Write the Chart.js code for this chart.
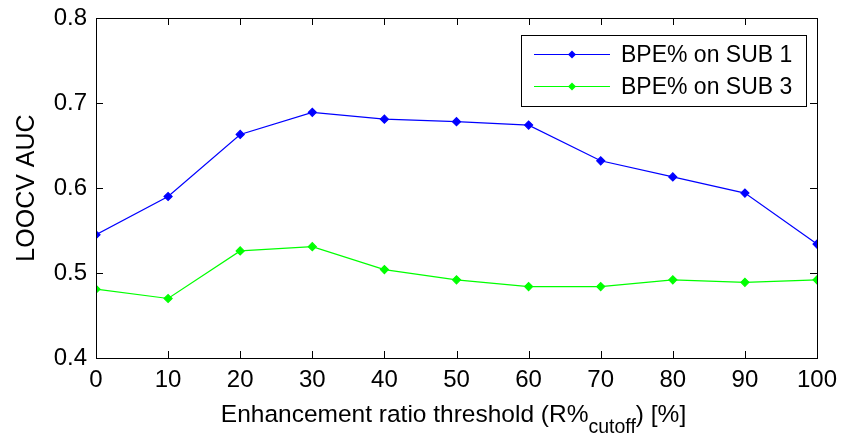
<!DOCTYPE html>
<html>
<head>
<meta charset="utf-8">
<script src="https://cdn.jsdelivr.net/npm/chart.js@4"></script>
<style>
  html, body { margin: 0; padding: 0; background: #fff; }
  #wrap { width: 842px; height: 438px; }
</style>
</head>
<body>
<div id="wrap"><canvas id="auc-chart" width="842" height="438"></canvas></div>
<script>
const thresholds = [0, 10, 20, 30, 40, 50, 60, 70, 80, 90, 100];
const sub1 = [0.545, 0.590, 0.663, 0.689, 0.681, 0.678, 0.674, 0.632, 0.613, 0.594, 0.534];
const sub3 = [0.481, 0.470, 0.526, 0.531, 0.504, 0.492, 0.484, 0.484, 0.492, 0.489, 0.492];
const seriesLabels = ['BPE% on SUB 1', 'BPE% on SUB 3'];
const yTitle = 'LOOCV AUC';
const xTitleParts = ['Enhancement ratio threshold (R%', 'cutoff', ') [%]'];

const FONT = '"Liberation Sans", Arial, sans-serif';

function toPoints(values) {
    return thresholds.map((t, i) => ({ x: t, y: values[i] }));
}

// MATLAB-like box with inward ticks, legend and subscripted x label
const matlabFrame = {
    id: 'matlabFrame',
    afterDatasetsDraw(chart) {
        const { ctx, chartArea: a, scales } = chart;
        const len = 7;
        ctx.save();
        ctx.strokeStyle = '#000';
        ctx.lineWidth = 1;
        ctx.beginPath();
        scales.x.ticks.forEach(t => {
            const px = Math.round(scales.x.getPixelForValue(t.value)) + 0.5;
            ctx.moveTo(px, a.bottom); ctx.lineTo(px, a.bottom - len);
            ctx.moveTo(px, a.top); ctx.lineTo(px, a.top + len);
        });
        scales.y.ticks.forEach(t => {
            const py = Math.round(scales.y.getPixelForValue(t.value)) + 0.5;
            ctx.moveTo(a.left, py); ctx.lineTo(a.left + len, py);
            ctx.moveTo(a.right, py); ctx.lineTo(a.right - len, py);
        });
        ctx.stroke();
        ctx.strokeRect(Math.round(a.left) + 0.5, Math.round(a.top) + 0.5,
            Math.round(a.right - a.left), Math.round(a.bottom - a.top));

        // legend
        const lx = 521, ly = 35, lw = 285, lh = 71;
        ctx.fillStyle = '#fff';
        ctx.fillRect(lx, ly, lw, lh);
        ctx.strokeRect(lx + 0.5, ly + 0.5, lw, lh);
        ctx.font = '23px ' + FONT;
        ctx.textBaseline = 'middle';
        chart.data.datasets.forEach((ds, i) => {
            const ry = ly + 19.5 + i * 32;
            ctx.strokeStyle = ds.borderColor;
            ctx.lineWidth = 1.2;
            ctx.beginPath();
            ctx.moveTo(lx + 13, ry); ctx.lineTo(lx + 89, ry);
            ctx.stroke();
            ctx.fillStyle = ds.borderColor;
            ctx.beginPath();
            ctx.moveTo(lx + 51 - 4, ry); ctx.lineTo(lx + 51, ry - 4);
            ctx.lineTo(lx + 51 + 4, ry); ctx.lineTo(lx + 51, ry + 4);
            ctx.closePath(); ctx.fill();
            ctx.fillStyle = '#000';
            ctx.fillText(ds.label, lx + 100, ry + 1);
        });

        // x axis title with subscript
        const bigFont = '24.5px ' + FONT, smallFont = '19.5px ' + FONT;
        ctx.font = bigFont;
        const w0 = ctx.measureText(xTitleParts[0]).width;
        const w2 = ctx.measureText(xTitleParts[2]).width;
        ctx.font = smallFont;
        const w1 = ctx.measureText(xTitleParts[1]).width;
        let x = (a.left + a.right) / 2 - 3 - (w0 + w1 + w2) / 2;
        ctx.fillStyle = '#000';
        ctx.textBaseline = 'alphabetic';
        ctx.textAlign = 'left';
        ctx.font = bigFont;
        ctx.fillText(xTitleParts[0], x, 422);
        x += w0;
        ctx.font = smallFont;
        ctx.fillText(xTitleParts[1], x, 433);
        x += w1;
        ctx.font = bigFont;
        ctx.fillText(xTitleParts[2], x, 422);
        ctx.restore();
    }
};

new Chart(document.getElementById('auc-chart'), {
    type: 'line',
    data: {
        datasets: [{
            label: seriesLabels[0],
            data: toPoints(sub1),
            borderColor: '#0000ff',
            backgroundColor: '#0000ff',
            borderWidth: 1.2,
            pointStyle: 'rectRot',
            pointRadius: 4,
            tension: 0
        }, {
            label: seriesLabels[1],
            data: toPoints(sub3),
            borderColor: '#00ff00',
            backgroundColor: '#00ff00',
            borderWidth: 1.2,
            pointStyle: 'rectRot',
            pointRadius: 4,
            tension: 0
        }]
    },
    options: {
        responsive: false,
        animation: false,
        layout: { padding: { top: 18, right: 25, left: 0, bottom: 0 } },
        plugins: {
            legend: { display: false },
            tooltip: { enabled: false }
        },
        scales: {
            x: {
                type: 'linear',
                min: 0,
                max: 100,
                grid: { display: false, drawTicks: false },
                border: { display: false },
                ticks: {
                    stepSize: 10,
                    padding: 8,
                    color: '#000',
                    maxRotation: 0,
                    font: { family: FONT, size: 24 }
                },
                afterFit(scale) {
                    scale.height = 80;
                    scale.paddingLeft = 0;
                    scale.paddingRight = 0;
                }
            },
            y: {
                min: 0.4,
                max: 0.8,
                grid: { display: false, drawTicks: false },
                border: { display: false },
                ticks: {
                    stepSize: 0.1,
                    padding: 9,
                    color: '#000',
                    font: { family: FONT, size: 24 },
                    callback: v => v.toFixed(1)
                },
                title: {
                    display: true,
                    text: yTitle,
                    color: '#000',
                    padding: { top: 12, bottom: 0 },
                    font: { family: FONT, size: 25 }
                },
                afterFit(scale) {
                    scale.width = 96;
                    scale.paddingTop = 0;
                    scale.paddingBottom = 0;
                }
            }
        }
    },
    plugins: [matlabFrame]
});
</script>
</body>
</html>
